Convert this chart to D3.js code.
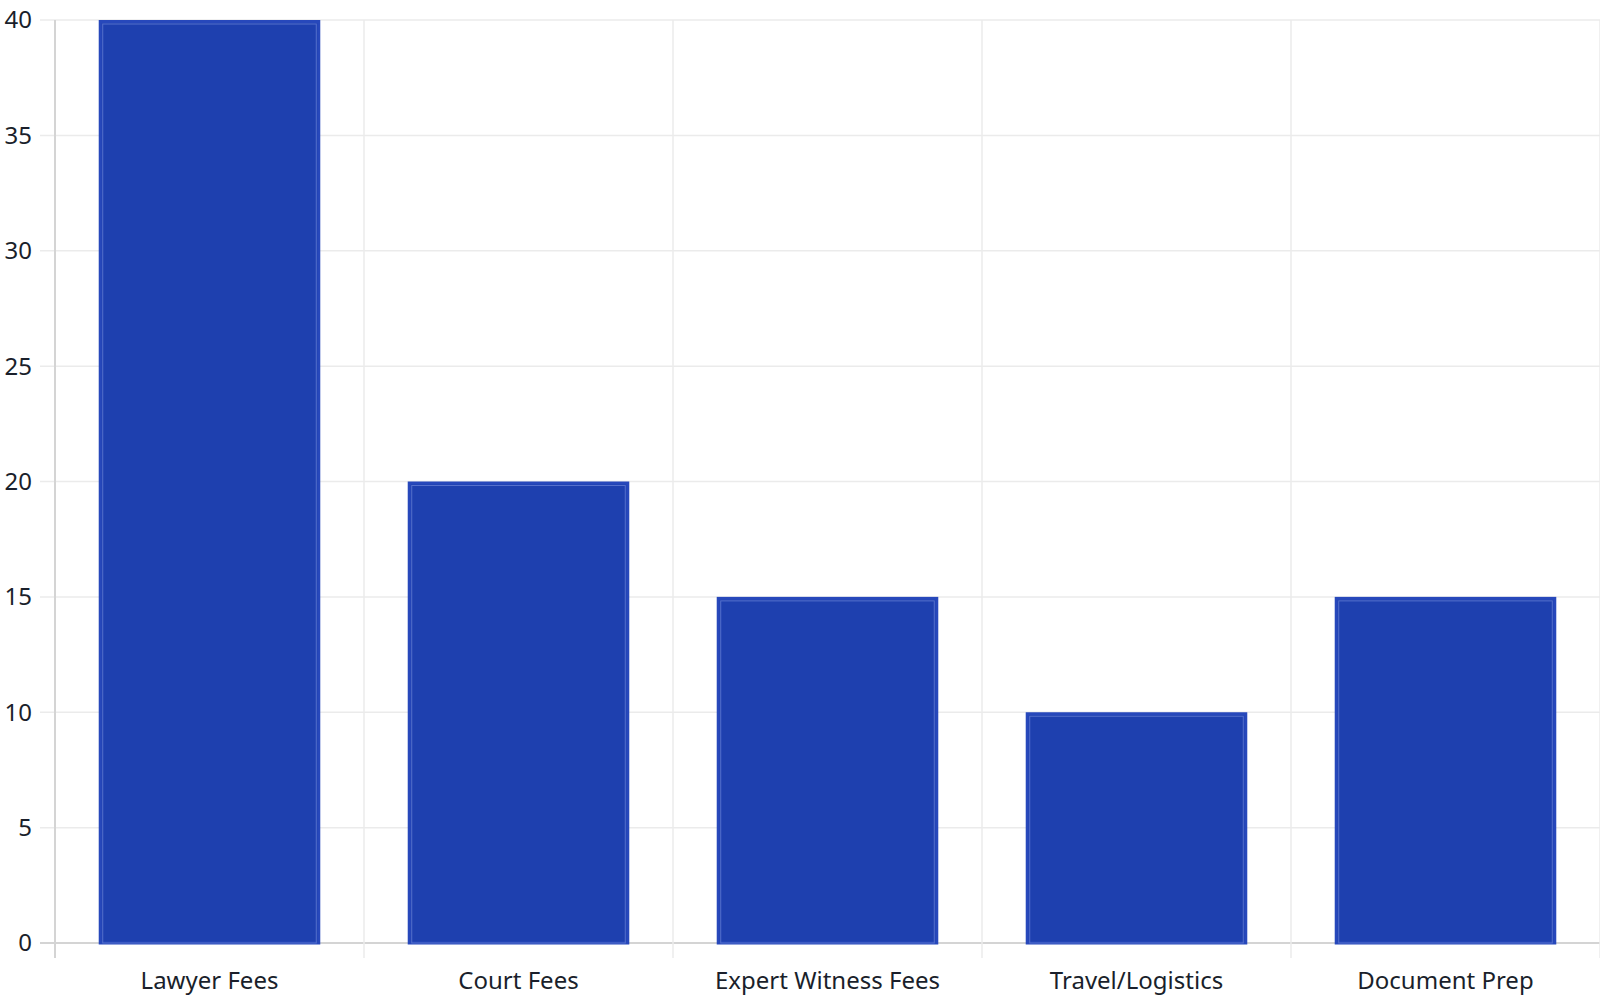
<!DOCTYPE html>
<html><head><meta charset="utf-8">
<script src="https://cdn.jsdelivr.net/npm/d3@7/dist/d3.min.js"></script>
<style>html,body{margin:0;padding:0;background:#fff;}svg{display:block;font-family:"Noto Sans",sans-serif;}</style>
</head><body>
<svg id="chart" width="1600" height="1000"></svg>
<script>
const categories = ["Lawyer Fees","Court Fees","Expert Witness Fees","Travel/Logistics","Document Prep"];
const values = [40,20,15,10,15];
const yTicks = [0,5,10,15,20,25,30,35,40];

const W = 1600, H = 1000;
const m = {left:55, right:0, top:20, bottom:57};
const svg = d3.select("#chart");
const x = d3.scaleBand().domain(categories).range([m.left, W - m.right]).padding(0);
const y = d3.scaleLinear().domain([0,40]).range([H - m.bottom, m.top]);

const g = svg.append("g");
// horizontal grid
g.selectAll(".hg").data(yTicks).join("line")
  .attr("x1", m.left - 15).attr("x2", W - m.right)
  .attr("y1", d => y(d)).attr("y2", d => y(d))
  .attr("stroke", d => d === 0 ? "#d4d4d4" : "#ebebeb").attr("stroke-width", d => d===0?2:1.5);
// vertical grid at band boundaries
const bounds = categories.map(c => x(c)).concat([W - m.right]);
g.selectAll(".vg").data(bounds).join("line")
  .attr("x1", d => d).attr("x2", d => d)
  .attr("y1", m.top).attr("y2", H - m.bottom + 15)
  .attr("stroke", (d,i) => i === 0 ? "#d4d4d4" : "#ebebeb").attr("stroke-width", (d,i)=> i===0?2:1.5);

// bars
const bw = x.bandwidth() * 0.717;
const bars = g.selectAll(".bar").data(values).join("g");
bars.append("rect")
  .attr("x", (d,i) => x(categories[i]) + (x.bandwidth() - bw)/2 + 1.5)
  .attr("y", d => y(d) + 1.5)
  .attr("width", bw - 3)
  .attr("height", d => y(0) - y(d) - 1.5)
  .attr("fill", "#1e40af").attr("stroke", "#2748bb").attr("stroke-width", 3);
bars.append("rect")
  .attr("x", (d,i) => x(categories[i]) + (x.bandwidth() - bw)/2 + 4)
  .attr("y", d => y(d) + 4)
  .attr("width", bw - 8)
  .attr("height", d => y(0) - y(d) - 4)
  .attr("fill", "none").attr("stroke", "#5570cc").attr("stroke-width", 1);

// y labels
g.selectAll(".yl").data(yTicks).join("text")
  .attr("x", 32).attr("y", d => y(d)).attr("dy", "0.35em")
  .attr("text-anchor", "end").attr("font-size", 24).attr("fill", "#1a1f2b")
  .text(d => d);
// x labels
g.selectAll(".xl").data(categories).join("text")
  .attr("x", d => x(d) + x.bandwidth()/2).attr("y", 989)
  .attr("text-anchor", "middle").attr("font-size", 24).attr("fill", "#1a1f2b")
  .text(d => d);
</script>
</body></html>
